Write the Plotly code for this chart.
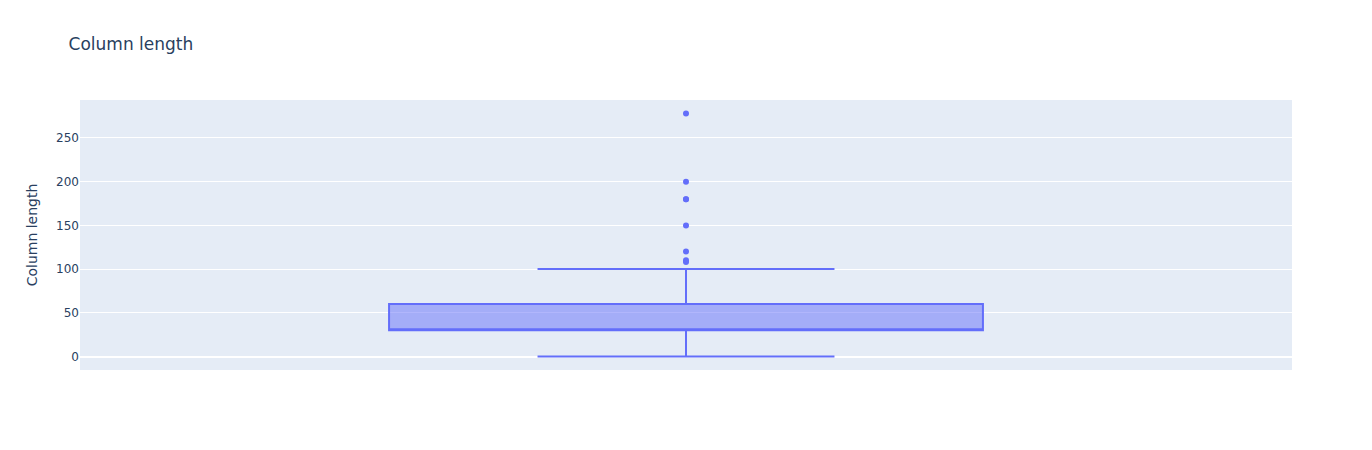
import plotly.graph_objects as go

column_length = [
    0, 20,
    30, 30, 30, 30, 30, 30, 30, 30, 30, 30,
    30, 30, 30, 30, 30, 30, 30, 30, 30, 30,
    50,
    60, 60, 60, 60, 60, 60, 60, 60, 60, 60,
    100,
    108, 110, 120, 150, 180, 180, 200, 278,
]

fig = go.Figure()
fig.add_trace(go.Box(
    y=column_length,
    name="",
    x0=" ",
    marker_color="#636efa",
    boxpoints="outliers",
    showlegend=False,
))
fig.update_layout(
    template="plotly",
    title="Column length",
    yaxis_title="Column length",
    font_family="DejaVu Sans",
    width=1372,
    height=450,
)
fig.write_html(
    "out.html",
    config={"displayModeBar": False},
    post_script="document.body.style.margin='0';",
)
